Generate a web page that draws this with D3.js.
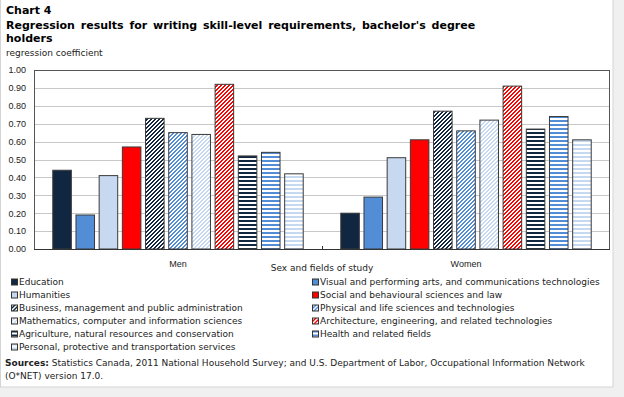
<!DOCTYPE html>
<meta charset="utf-8">
<head>
<style>
  body { margin: 0; background: #f0f0f0; }
  svg { display: block; font-family: 'DejaVu Sans', Verdana, sans-serif; }
  .title { font-size: 11px; font-weight: bold; fill: #000; }
  .lbl { font-size: 9px; fill: #222; }
  .grid line { stroke: #c8c8c8; }
</style>
</head>
<body>
<svg width="624" height="397"></svg>
<script src="https://d3js.org/d3.v7.min.js"></script>
<script>

var groups = ["Men", "Women"];
var fields = [
  "Education",
  "Visual and performing arts, and communications technologies",
  "Humanities",
  "Social and behavioural sciences and law",
  "Business, management and public administration",
  "Physical and life sciences and technologies",
  "Mathematics, computer and information sciences",
  "Architecture, engineering, and related technologies",
  "Agriculture, natural resources and conservation",
  "Health and related fields",
  "Personal, protective and transportation services"
];
var men   = [0.44, 0.19, 0.41, 0.57, 0.73, 0.65, 0.64, 0.92, 0.52, 0.54, 0.42];
var women = [0.20, 0.29, 0.51, 0.61, 0.77, 0.66, 0.72, 0.91, 0.67, 0.74, 0.61];
var yTicks = [0, 0.1, 0.2, 0.3, 0.4, 0.5, 0.6, 0.7, 0.8, 0.9, 1.0];

// fill style per field (colour + pattern kind)
var navy = "#112641", blue = "#538dd5", light = "#c6d9f1", red = "#ff0000";
var fieldStyle = [
  [navy, "solid"], [blue, "solid"], [light, "solid"], [red, "solid"],
  [navy, "diag"], [blue, "diag"], [light, "diag"], [red, "diag"],
  [navy, "horiz"], [blue, "horiz"], [light, "horiz"]
];

var svg = d3.select("svg");

// white panel
svg.append("rect")
  .attr("x", 0.5).attr("y", -1)
  .attr("width", 612.5).attr("height", 388)
  .attr("fill", "#fff").attr("stroke", "#d4d4d4");

// pixel hatch patterns, 4x4
var defs = svg.append("defs");
fieldStyle.forEach(function(s, i) {
  if (s[1] == "solid") return;
  var p = defs.append("pattern")
    .attr("id", "pat" + i)
    .attr("patternUnits", "userSpaceOnUse")
    .attr("width", 4).attr("height", 4);
  p.append("rect").attr("width", 4).attr("height", 4).attr("fill", "#fff");
  if (s[1] == "diag") {
    for (var r = 0; r < 4; r++) {
      p.append("rect").attr("x", 3 - r).attr("y", r).attr("width", 2).attr("height", 1).attr("fill", s[0]);
      p.append("rect").attr("x", -1 - r).attr("y", r).attr("width", 2).attr("height", 1).attr("fill", s[0]);
    }
  } else {
    p.append("rect").attr("width", 4).attr("height", 2).attr("fill", s[0]);
  }
});
function fillOf(i) {
  return fieldStyle[i][1] == "solid" ? fieldStyle[i][0] : "url(#pat" + i + ")";
}

// titles
svg.append("text").attr("class", "title").attr("x", 6).attr("y", 14).text("Chart 4");
svg.append("text").attr("class", "title").attr("x", 6).attr("y", 28.5)
  .attr("word-spacing", "2px")
  .text("Regression results for writing skill-level requirements, bachelor's degree");
svg.append("text").attr("class", "title").attr("x", 6).attr("y", 42).text("holders");
svg.append("text").attr("class", "lbl").attr("x", 6).attr("y", 56).text("regression coefficient");

var mLeft = 34, mRight = 610, mTop = 70, mBottom = 249;

var y = d3.scaleLinear().domain([0, 1]).range([mBottom, mTop]);
var x0 = d3.scaleBand().domain(groups).range([mLeft, mRight]);
var x1 = d3.scaleBand().domain(d3.range(fields.length))
  .range([0, x0.bandwidth()]).paddingInner(0.2).paddingOuter(0.81);

// grid
svg.append("g").attr("class", "grid")
  .selectAll("line").data(yTicks.slice(1, -1)).enter().append("line")
  .attr("x1", mLeft).attr("x2", mRight)
  .attr("y1", d => Math.round(y(d)) + 0.5).attr("y2", d => Math.round(y(d)) + 0.5);

// y axis labels
var yAxis = d3.axisLeft(y).tickValues(yTicks).tickFormat(d3.format(".2f")).tickSize(0).tickPadding(8);
var ya = svg.append("g").attr("transform", "translate(" + mLeft + ",0)").call(yAxis);
ya.select(".domain").remove();
ya.selectAll("text").attr("class", "lbl").attr("font-family", null).attr("font-size", null);

// bars
var series = [men, women];
groups.forEach(function(g, gi) {
  svg.append("g")
    .attr("transform", "translate(" + x0(g) + ",0)")
    .selectAll("rect").data(series[gi]).enter().append("rect")
    .attr("x", (d, i) => x1(i))
    .attr("y", d => y(d))
    .attr("width", x1.bandwidth())
    .attr("height", d => y(0) - y(d))
    .attr("fill", (d, i) => fillOf(i))
    .attr("stroke", "#3a3a3a").attr("stroke-width", 1);
});

// plot frame
svg.append("rect")
  .attr("x", mLeft + 0.5).attr("y", mTop + 0.5)
  .attr("width", mRight - mLeft - 1).attr("height", mBottom - mTop)
  .attr("fill", "none").attr("stroke", "#555");
svg.append("line")
  .attr("x1", mLeft).attr("x2", mRight)
  .attr("y1", mBottom + 0.5).attr("y2", mBottom + 0.5)
  .attr("stroke", "#333");

// x axis
var xAxis = d3.axisBottom(x0).tickSize(0).tickPadding(12);
var xa = svg.append("g").attr("transform", "translate(0," + mBottom + ")").call(xAxis);
xa.select(".domain").remove();
xa.selectAll("text").attr("class", "lbl").attr("font-family", null).attr("font-size", null);
svg.append("line")
  .attr("x1", x0("Women") + 0.5).attr("x2", x0("Women") + 0.5)
  .attr("y1", mBottom).attr("y2", mBottom - 3)
  .attr("stroke", "#333");

svg.append("text").attr("class", "lbl")
  .attr("x", (mLeft + mRight) / 2).attr("y", 271)
  .attr("text-anchor", "middle")
  .text("Sex and fields of study");

// legend
var leg = svg.append("g").selectAll("g").data(fields).enter().append("g")
  .attr("transform", (d, i) => "translate(" + (i % 2 ? 312 : 11) + "," + (278.5 + 13 * Math.floor(i / 2)) + ")");
leg.append("rect")
  .attr("x", 0.5).attr("y", 0.5).attr("width", 6).attr("height", 6)
  .attr("fill", (d, i) => fillOf(i))
  .attr("stroke", "#333").attr("stroke-width", 1);
leg.append("text").attr("class", "lbl")
  .attr("x", 8).attr("y", 6.5)
  .text(d => d);

// sources
var src = svg.append("text").attr("class", "lbl").attr("x", 5).attr("y", 366);
src.append("tspan").attr("font-weight", "bold").text("Sources:");
src.append("tspan").text(" Statistics Canada, 2011 National Household Survey; and U.S. Department of Labor, Occupational Information Network");
svg.append("text").attr("class", "lbl").attr("x", 5).attr("y", 379)
  .text("(O*NET) version 17.0.");

</script>
</body>
